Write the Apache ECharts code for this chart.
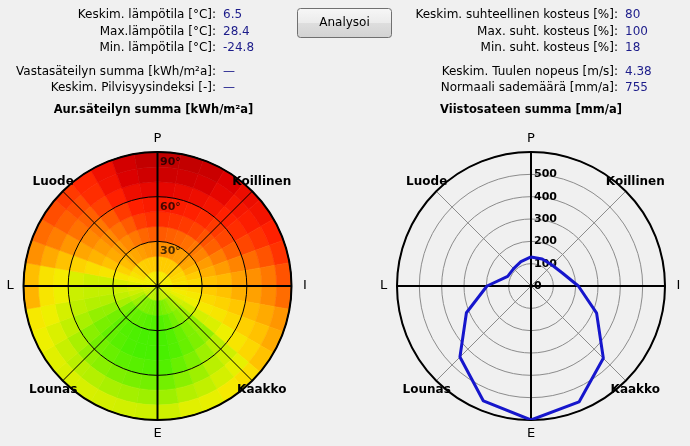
<!DOCTYPE html>
<html><head><meta charset="utf-8">
<script src="https://cdn.jsdelivr.net/npm/echarts@6/dist/echarts.min.js"></script>
<style>html,body{margin:0;padding:0;background:#f0f0f0}#c{width:690px;height:446px}</style>
</head><body><div id="c"></div>
<script>
// ---------- data ----------
const leftStatLabels = ['Keskim. lämpötila [°C]:', 'Max.lämpötila [°C]:', 'Min. lämpötila [°C]:', 'Vastasäteilyn summa [kWh/m²a]:', 'Keskim. Pilvisyysindeksi [-]:'];
const leftStatValues = ['6.5', '28.4', '-24.8', '—', '—'];
const rightStatLabels = ['Keskim. suhteellinen kosteus [%]:', 'Max. suht. kosteus [%]:', 'Min. suht. kosteus [%]:', 'Keskim. Tuulen nopeus [m/s]:', 'Normaali sademäärä [mm/a]:'];
const rightStatValues = ['80', '100', '18', '4.38', '755'];
const buttonText = 'Analysoi';
const heatTitle = 'Aur.säteilyn summa [kWh/m²a]';
const rainTitle = 'Viistosateen summa [mm/a]';
const directionNames = ['P', 'Koillinen', 'I', 'Kaakko', 'E', 'Lounas', 'L', 'Luode'];
const directionBearings = [0, 45, 90, 135, 180, 225, 270, 315];
const directionBold = [false, true, false, true, false, true, false, true];

// tilt (radial) bands and compass sectors of the radiation map
const tiltStarts = [0, 10, 20, 30, 40, 50, 60, 70, 80];
const sectorStarts = [0,10,20,30,40,50,60,70,80,90,100,110,120,130,140,150,160,170,180,190,200,210,220,230,240,250,260,270,280,290,300,310,320,330,340,350];
// radiation per sector (row) and tilt band (column), kWh/m²a
const radiation = [
  [890, 800, 680, 590, 520, 480, 420, 360, 330],
  [890, 800, 680, 600, 530, 490, 430, 365, 335],
  [885, 800, 690, 610, 540, 500, 445, 380, 350],
  [880, 800, 700, 625, 555, 515, 465, 420, 395],
  [880, 800, 700, 640, 580, 540, 500, 470, 440],
  [885, 810, 720, 660, 600, 560, 520, 490, 460],
  [890, 830, 760, 700, 650, 600, 560, 530, 500],
  [895, 845, 800, 740, 700, 660, 620, 580, 530],
  [900, 860, 840, 780, 760, 710, 680, 640, 580],
  [905, 870, 850, 800, 780, 740, 710, 670, 620],
  [915, 890, 880, 840, 820, 790, 760, 730, 690],
  [925, 915, 910, 880, 870, 840, 810, 780, 730],
  [940, 950, 960, 950, 940, 910, 870, 830, 780],
  [960, 1000, 1020, 1030, 1030, 990, 960, 920, 850],
  [970, 1020, 1040, 1050, 1050, 1020, 990, 950, 880],
  [980, 1040, 1060, 1070, 1070, 1050, 1020, 980, 920],
  [990, 1050, 1080, 1090, 1090, 1070, 1040, 1000, 930],
  [1000, 1060, 1090, 1100, 1100, 1090, 1060, 1020, 960],
  [1000, 1060, 1090, 1100, 1100, 1090, 1060, 1020, 960],
  [995, 1055, 1085, 1100, 1100, 1085, 1055, 1015, 955],
  [990, 1050, 1080, 1095, 1095, 1080, 1050, 1010, 950],
  [985, 1045, 1075, 1090, 1085, 1070, 1040, 1000, 945],
  [980, 1040, 1070, 1080, 1075, 1060, 1030, 990, 940],
  [970, 1020, 1050, 1060, 1055, 1040, 1010, 970, 930],
  [955, 990, 1010, 1030, 1030, 1010, 980, 940, 910],
  [940, 960, 980, 1000, 1000, 985, 950, 910, 880],
  [925, 940, 960, 975, 975, 965, 910, 870, 750],
  [915, 925, 940, 960, 960, 940, 890, 860, 770],
  [910, 900, 880, 870, 850, 820, 780, 730, 680],
  [905, 870, 820, 780, 750, 720, 690, 650, 620],
  [900, 840, 770, 730, 700, 670, 630, 600, 570],
  [900, 820, 740, 700, 670, 640, 600, 570, 540],
  [895, 810, 720, 670, 630, 590, 550, 520, 510],
  [895, 805, 705, 640, 590, 540, 500, 460, 450],
  [890, 800, 690, 610, 545, 500, 445, 390, 370],
  [890, 800, 685, 595, 525, 485, 425, 362, 335]
];
// driving rain by direction, mm/a
const rainBearings = [0, 22.5, 45, 67.5, 90, 112.5, 135, 157.5, 180, 202.5, 225, 247.5, 270, 292.5, 315, 337.5];
const rainValues = [130, 131, 133, 152, 212, 318, 458, 562, 600, 557, 450, 313, 197, 113, 110, 118];

// ---------- layout ----------
const FONT = '"DejaVu Sans", sans-serif';
const leftC = [157.5, 286], rightC = [531, 286], R = 134;
const rowY = [15, 31.5, 48, 72, 88];

const graphics = [];
function txt(x, y, text, opt) {
  graphics.push({type: 'text', x: x, y: y, z: 100, silent: true,
    style: Object.assign({text: text, fontFamily: FONT, fontSize: 12, fill: '#000', align: 'left', verticalAlign: 'middle'}, opt || {})});
}
leftStatLabels.forEach((s, i) => txt(216, rowY[i], s, {align: 'right'}));
leftStatValues.forEach((s, i) => txt(223, rowY[i], s, {fill: '#1c1c8a'}));
rightStatLabels.forEach((s, i) => txt(618, rowY[i], s, {align: 'right'}));
rightStatValues.forEach((s, i) => txt(625, rowY[i], s, {fill: '#1c1c8a'}));
txt(leftC[0] - 4, 110, heatTitle, {align: 'center', fontWeight: 'bold', fontSize: 11.5});
txt(rightC[0], 110, rainTitle, {align: 'center', fontWeight: 'bold', fontSize: 11.5});

graphics.push({type: 'rect', z: 99, silent: true,
  shape: {x: 297.5, y: 8.5, width: 94, height: 29, r: 3},
  style: {fill: new echarts.graphic.LinearGradient(0, 0, 0, 1, [
    {offset: 0, color: '#f7f7f7'}, {offset: 0.5, color: '#ebebeb'},
    {offset: 0.5, color: '#dedede'}, {offset: 1, color: '#d2d2d2'}]),
    stroke: '#707070', lineWidth: 1}});
txt(344.5, 23, buttonText, {align: 'center'});

[leftC, rightC].forEach(c => {
  directionNames.forEach((n, i) => {
    const b = directionBearings[i] * Math.PI / 180;
    const rr = 147.5;
    txt(c[0] + rr * Math.sin(b), c[1] - rr * Math.cos(b), n,
      directionBold[i] ? {align: 'center', fontWeight: 'bold', fontSize: 12} : {align: 'center', fontSize: 13});
  });
});

// ---------- series data ----------
const tiltStep = tiltStarts[1] - tiltStarts[0];
const sectorStep = sectorStarts[1] - sectorStarts[0];
const heatData = [];
sectorStarts.forEach((b, k) => tiltStarts.forEach((t, j) => heatData.push([t, b, radiation[k][j]])));
const rainData = rainBearings.map((b, i) => [rainValues[i], b]);
rainData.push([rainValues[0], 360]);

function renderHeat(params, api) {
  const cs = params.coordSys;
  const cx = cs.cx, cy = cs.cy;
  const t0 = api.value(0), b0 = api.value(1);
  const dist = p => Math.hypot(p[0] - cx, p[1] - cy);
  const ang = p => Math.atan2(p[1] - cy, p[0] - cx);
  const r0 = dist(api.coord([t0, b0]));
  const r1 = dist(api.coord([t0 + tiltStep, b0]));
  let a0 = ang(api.coord([t0 + tiltStep, b0]));
  let a1 = ang(api.coord([t0 + tiltStep, b0 + sectorStep]));
  if (a1 < a0) a1 += 2 * Math.PI;
  const color = api.visual('color');
  return {type: 'sector',
    shape: {cx: cx, cy: cy, r0: r0, r: r1, startAngle: a0, endAngle: a1, clockwise: true},
    style: {fill: color, stroke: color, lineWidth: 0.6}};
}

const hidden = {axisLine: {show: false}, axisTick: {show: false}, axisLabel: {show: false}};
const option = {
  backgroundColor: '#f0f0f0',
  animation: false,
  polar: [
    {center: leftC, radius: R}, {center: leftC, radius: R},
    {center: rightC, radius: R}, {center: rightC, radius: R}
  ],
  angleAxis: [
    Object.assign({polarIndex: 0, type: 'value', min: 0, max: 360, interval: 45, startAngle: 90, clockwise: true, z: 5,
      splitLine: {show: true, lineStyle: {color: '#000', width: 1}}}, hidden),
    Object.assign({polarIndex: 1, type: 'value', min: 0, max: 360, interval: 90, startAngle: 90, clockwise: true, z: 6,
      splitLine: {show: true, lineStyle: {color: '#000', width: 2}}}, hidden, {axisLine: {show: true, lineStyle: {color: '#000', width: 2}}}),
    Object.assign({polarIndex: 2, type: 'value', min: 0, max: 360, interval: 45, startAngle: 90, clockwise: true, z: 5,
      splitLine: {show: true, lineStyle: {color: '#8c8c8c', width: 1}}}, hidden),
    Object.assign({polarIndex: 3, type: 'value', min: 0, max: 360, interval: 90, startAngle: 90, clockwise: true, z: 6,
      splitLine: {show: true, lineStyle: {color: '#000', width: 2}}}, hidden, {axisLine: {show: true, lineStyle: {color: '#000', width: 2}}})
  ],
  radiusAxis: [
    {polarIndex: 0, type: 'value', min: 0, max: 90, interval: 30, z: 5,
      axisLine: {show: false}, axisTick: {show: false},
      splitLine: {show: true, lineStyle: {color: '#000', width: 1}},
      axisLabel: {show: true, formatter: '{value}°', showMinLabel: false, margin: -2.5, align: 'left', verticalAlign: 'top', lineHeight: 20,
        fontFamily: FONT, fontWeight: 'bold', fontSize: 11, color: 'rgba(0,0,0,0.72)'}},
    {polarIndex: 1, type: 'value', min: 0, max: 90, z: 6, splitLine: {show: false}, axisLine: {show: false}, axisTick: {show: false}, axisLabel: {show: false}},
    {polarIndex: 2, type: 'value', min: 0, max: 600, interval: 100, z: 5,
      axisLine: {show: false}, axisTick: {show: false},
      splitLine: {show: true, lineStyle: {color: '#8c8c8c', width: 1}},
      axisLabel: {show: true, showMaxLabel: false, margin: -3, align: 'left', verticalAlign: 'middle',
        fontFamily: FONT, fontWeight: 'bold', fontSize: 11, color: '#000'}},
    {polarIndex: 3, type: 'value', min: 0, max: 600, z: 6, splitLine: {show: false}, axisLine: {show: false}, axisTick: {show: false}, axisLabel: {show: false}}
  ],
  visualMap: {type: 'continuous', show: false, seriesIndex: 0, dimension: 2, min: 300, max: 1100,
    inRange: {color: ['#b40000', '#e00000', '#ff2000', '#ff6000', '#ff9c00', '#ffcc00', '#f4f000', '#b4f000', '#48f000']}},
  graphic: graphics,
  series: [
    {type: 'custom', coordinateSystem: 'polar', polarIndex: 0, z: 1, silent: true,
      encode: {radius: 0, angle: 1}, renderItem: renderHeat, data: heatData},
    {type: 'line', coordinateSystem: 'polar', polarIndex: 2, z: 20, symbol: 'none', silent: true,
      lineStyle: {color: '#1616cc', width: 3}, data: rainData}
  ]
};
echarts.init(document.getElementById('c'), null, {renderer: 'canvas'}).setOption(option);
</script></body></html>
